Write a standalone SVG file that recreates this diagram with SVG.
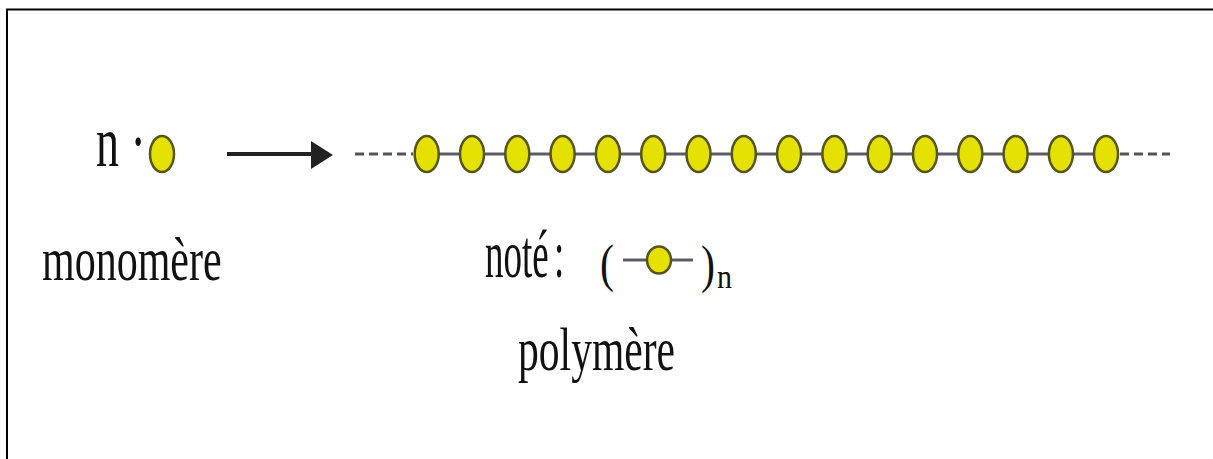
<svg xmlns="http://www.w3.org/2000/svg" width="1213" height="459" viewBox="0 0 1213 459">
<style>
.t{font-family:"Liberation Serif","Times New Roman",serif;fill:#111}
.bead{fill:#e4e000;stroke:#55551c;stroke-width:2.5}
.link{stroke:#5c5c66;stroke-width:3;fill:none}
.dash{stroke:#555;stroke-width:3;fill:none;stroke-dasharray:9 5}
</style>
<defs>
<ellipse id="b" cx="0" cy="0" rx="12" ry="18" class="bead"/>
</defs>
<rect width="1213" height="459" fill="#fff"/>
<path d="M7,459 V9.5 H1213" stroke="#000" stroke-width="2" fill="none"/>

<g id="monomer">
<text class="t" font-size="46" transform="translate(96,166) scale(1,1.55)">n ·</text>
<use href="#b" x="162" y="154"/>
<text class="t" font-size="42" transform="translate(42,280) scale(1,1.48)">monomère</text>
</g>

<g id="connectors">
<line x1="227" y1="154" x2="316" y2="154" stroke="#222" stroke-width="4"/>
<polygon points="311,141 333,155 311,169" fill="#222"/>
</g>

<g id="polymer">
<path class="dash" d="M355,154 H413"/>
<path class="dash" d="M1120,154 H1170"/>
<line class="link" x1="427" y1="154" x2="1106" y2="154"/>
<use href="#b" x="426.7" y="154"/>
<use href="#b" x="472" y="154"/>
<use href="#b" x="517.3" y="154"/>
<use href="#b" x="562.6" y="154"/>
<use href="#b" x="607.9" y="154"/>
<use href="#b" x="653.2" y="154"/>
<use href="#b" x="698.5" y="154"/>
<use href="#b" x="743.8" y="154"/>
<use href="#b" x="789.1" y="154"/>
<use href="#b" x="834.4" y="154"/>
<use href="#b" x="879.7" y="154"/>
<use href="#b" x="925" y="154"/>
<use href="#b" x="970.3" y="154"/>
<use href="#b" x="1015.6" y="154"/>
<use href="#b" x="1060.9" y="154"/>
<use href="#b" x="1106" y="154"/>
</g>

<g id="notation">
<text class="t" font-size="37" transform="translate(485,277) scale(1,1.8)">noté</text>
<text class="t" font-size="37" transform="translate(554,277) scale(1,1.8)">:</text>
<text class="t" font-size="42" transform="translate(600,281) scale(1,1.28)">(</text>
<line class="link" x1="623" y1="260" x2="693" y2="260"/>
<ellipse cx="659" cy="260" rx="12" ry="13.5" class="bead"/>
<text class="t" font-size="42" transform="translate(701,282) scale(1,1.28)">)</text>
<text class="t" font-size="30" transform="translate(717,288) scale(1,1.1)">n</text>
<text class="t" font-size="41.6" transform="translate(518,370) scale(1,1.45)">polymère</text>
</g>
</svg>
